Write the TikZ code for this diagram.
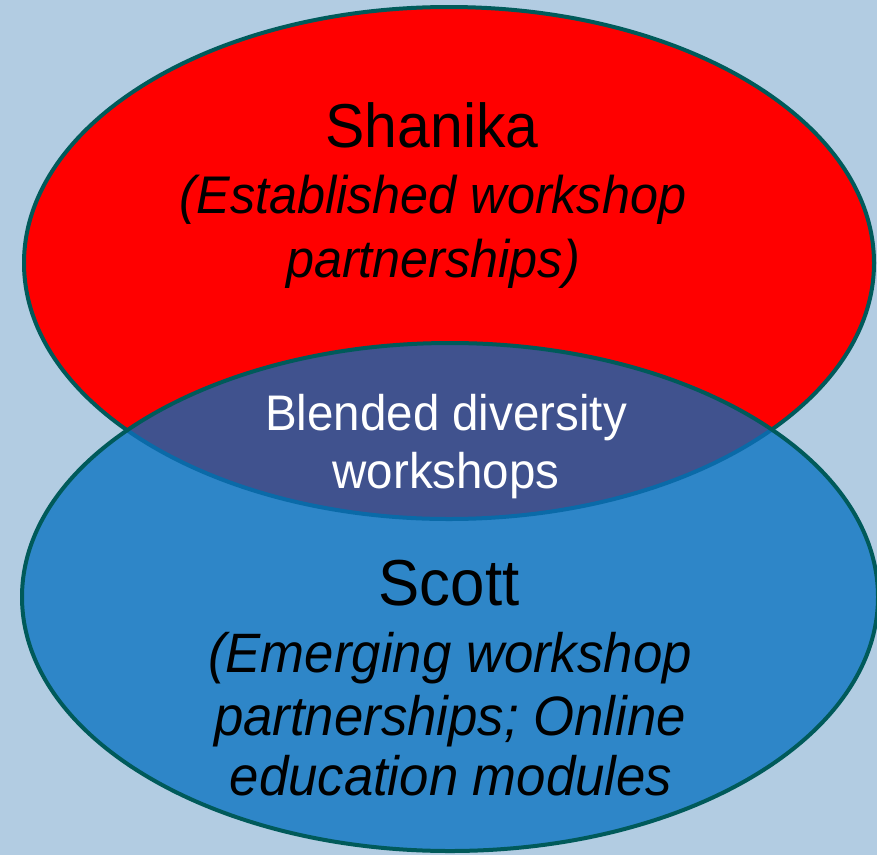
\documentclass[tikz,border=0pt]{standalone}
\usepackage{fontspec}
\setmainfont{Liberation Sans}[FakeStretch=0.95]
\definecolor{bgblue}{RGB}{178,204,226}
\definecolor{scottblue}{RGB}{46,134,200}
\definecolor{overlap}{RGB}{64,82,142}
\definecolor{rimteal}{RGB}{0,90,90}
\definecolor{edgeblue}{RGB}{10,106,168}

\begin{document}
\begin{tikzpicture}[x=1pt,y=-1pt,
    rim/.style={line width=4pt},
    oval/.style={x radius=425pt,y radius=256pt},
    title/.style={anchor=base,inner sep=0pt,font=\fontsize{62}{62}\selectfont},
    note/.style={anchor=base,inner sep=0pt,font=\fontsize{53}{53}\selectfont\itshape},
    mix/.style={anchor=base,inner sep=0pt,text=white,font=\fontsize{50}{50}\selectfont}]
        % background, fixes the page size
        \fill[bgblue] (0,0) rectangle (877,855);
        \useasboundingbox (0,0) rectangle (877,855);
        \coordinate (top) at (449,263);
        \coordinate (bot) at (450,597);

        % Shanika
        \fill[red] (top) ellipse [oval];
        \draw[rim,rimteal] (top) ellipse [oval];
        % Scott
        \fill[scottblue] (bot) ellipse [x radius=428pt,y radius=254pt];
        % overlap of the two
        \begin{scope}
            \clip (bot) ellipse [x radius=428pt,y radius=254pt];
            \fill[overlap] (top) ellipse [oval];
            \draw[rim,edgeblue] (top) ellipse [oval];
        \end{scope}
        \draw[rim,rimteal] (bot) ellipse [x radius=428pt,y radius=254pt];

        \node[title] (shanika) at (432,147) {Shanika};
        \node[note] (shanika1) at (433,213) {(Established workshop};
        \node[note] (shanika2) at (433,277) {partnerships)};

        \node[mix] (blend1) at (446,430) {Blended diversity};
        \node[mix] (blend2) at (446,488) {workshops};

        \node[title,font=\fontsize{65}{65}\selectfont] (scott) at (449,605) {Scott};
        \node[note,font=\fontsize{55.5}{55.5}\selectfont\itshape] (scott1) at (450,672) {(Emerging workshop};
        \node[note,font=\fontsize{55.5}{55.5}\selectfont\itshape] (scott2) at (450,735) {partnerships; Online};
        \node[note,font=\fontsize{55.5}{55.5}\selectfont\itshape] (scott3) at (451,795) {education modules};
    \end{tikzpicture}
\end{document}
